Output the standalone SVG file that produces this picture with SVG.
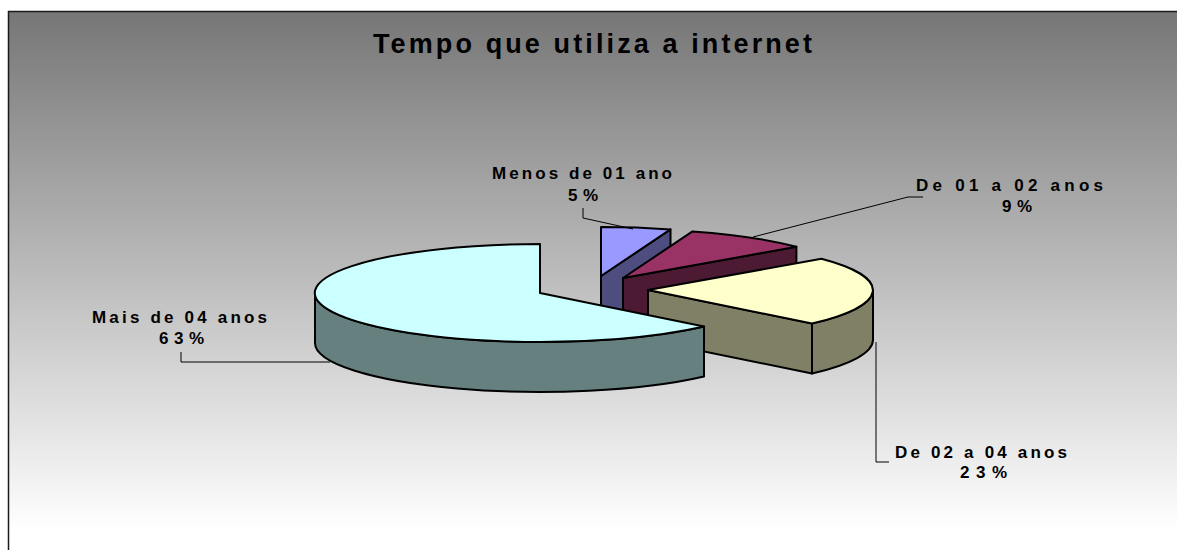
<svg xmlns="http://www.w3.org/2000/svg" width="1177" height="550" viewBox="0 0 1177 550">
<defs>
<linearGradient id="bg" gradientUnits="userSpaceOnUse" x1="0" y1="11" x2="0" y2="530">
<stop offset="0" stop-color="#767676"/>
<stop offset="1" stop-color="#ffffff"/>
</linearGradient>
</defs>
<style>
.s{stroke:#000;stroke-width:2;stroke-linejoin:round}
.lbl{font-family:"Liberation Sans",Arial,sans-serif;font-weight:bold;font-size:17px;fill:#000}
.ttl{font-family:"Liberation Sans",Arial,sans-serif;font-weight:bold;font-size:27px;fill:#000}
.ld{fill:none;stroke:#000;stroke-width:1}
</style>
<rect x="0" y="0" width="1177" height="550" fill="#ffffff"/>
<rect x="8" y="11" width="1169" height="539" fill="url(#bg)"/>
<polyline points="8.5,550 8.5,11.5 1177,11.5" fill="none" stroke="#1a1a1a" stroke-width="1.5"/>
<text class="ttl" x="373" y="53" textLength="439" lengthAdjust="spacing">Tempo que utiliza a internet</text>
<g id="slice-menos">
<path class="s" fill="#4D4D80" d="M601,276 L670.5,229.4 L670.5,279.4 L601,326 Z"/>
<path class="s" fill="#9999FF" d="M601,276 L601,227 A225,49 0 0,1 670.5,229.4 Z"/>
</g>
<g id="slice-0102">
<path class="s" fill="#4D1A33" d="M623,278 L796.4,246.8 L796.4,296.8 L623,328 Z"/>
<path class="s" fill="#993366" d="M623,278 L692.5,231.4 A225,49 0 0,1 796.4,246.8 Z"/>
</g>
<g id="slice-0204">
<path class="s" fill="#808066" d="M648,290 L812,323.5 L812,373.5 L648,340 Z"/>
<path class="s" fill="#808066" d="M873,290 A225,49 0 0,1 812,323.5 L812,373.5 A225,49 0 0,0 873,340 Z"/>
<path class="s" fill="#FFFFCC" d="M648,290 L821.4,258.8 A225,49 0 0,1 812,323.5 Z"/>
</g>
<g id="slice-mais">
<path class="s" fill="#668080" d="M704,326.5 A225,49 0 0,1 315,293 L315,343 A225,49 0 0,0 704,376.5 Z"/>
<path class="s" fill="#CCFFFF" d="M540,293 L704,326.5 A225,49 0 1,1 540,244 Z"/>
</g>
<g id="connectors">
<polyline class="ld" points="583,208 583,218 633,229"/>
<polyline class="ld" points="923,197 908,197 753,237"/>
<polyline class="ld" points="876,342 876,462 889,462"/>
<polyline class="ld" points="181,352 181,362 330,362"/>
</g>
<g id="labels">
<text class="lbl" x="492" y="179" textLength="180" lengthAdjust="spacing">Menos de 01 ano</text>
<text class="lbl" x="568" y="201" textLength="30" lengthAdjust="spacing">5%</text>
<text class="lbl" x="916" y="191" textLength="187" lengthAdjust="spacing">De 01 a 02 anos</text>
<text class="lbl" x="1002" y="212" textLength="30" lengthAdjust="spacing">9%</text>
<text class="lbl" x="895" y="458" textLength="172" lengthAdjust="spacing">De 02 a 04 anos</text>
<text class="lbl" x="960" y="478" textLength="47" lengthAdjust="spacing">23%</text>
<text class="lbl" x="92" y="323" textLength="175" lengthAdjust="spacing">Mais de 04 anos</text>
<text class="lbl" x="159" y="344" textLength="45" lengthAdjust="spacing">63%</text>
</g>
</svg>
